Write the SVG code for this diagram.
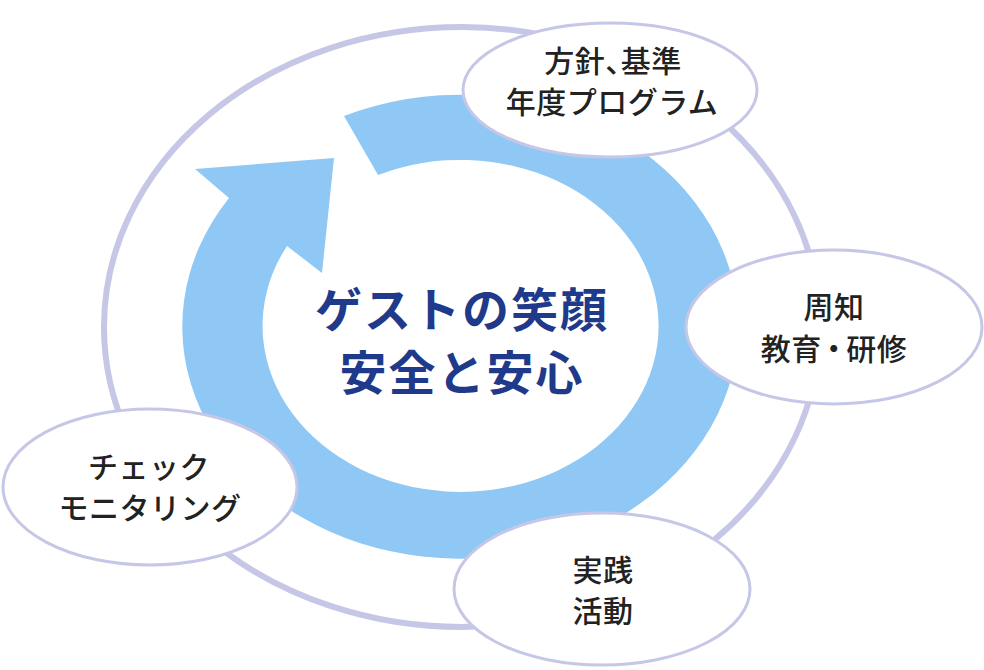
<svg xmlns="http://www.w3.org/2000/svg" width="984" height="670" viewBox="0 0 984 670">
<style>
.node ellipse{fill:#fff;stroke:#c6c7e6;stroke-width:3}
.lbl{font-family:"Noto Sans CJK JP","Noto Sans",sans-serif;font-size:30px;font-weight:500;fill:#222;text-anchor:middle;dominant-baseline:central;letter-spacing:0.5px}
.half{font-feature-settings:"halt" 1}
.center{font-family:"Noto Sans CJK JP","Noto Sans",sans-serif;font-size:47px;font-weight:700;fill:#1f3a8a;text-anchor:middle;dominant-baseline:central;letter-spacing:2px}
</style>
<rect width="984" height="670" fill="#fff"/>
<g id="connectors">
<ellipse cx="462" cy="327" rx="358" ry="300" fill="none" stroke="#c6c7e6" stroke-width="6"/>
<path id="cycle-arrow" fill="#8fc8f5" d="M344 116 A278 232 0 1 1 229 198 L195 169 L334 158 L322 273 L287 246 A198 166 0 1 0 378 175 Z"/>
</g>
<g id="center">
<text class="center" x="462" y="306">ゲストの笑顔</text>
<text class="center" x="462" y="369">安全と安心</text>
</g>
<g id="node-policy" class="node">
<ellipse cx="610" cy="90" rx="147" ry="67"/>
<text class="lbl" x="613" y="58.5">方針<tspan class="half">、</tspan>基準</text>
<text class="lbl" x="612" y="99.5">年度プログラム</text>
</g>
<g id="node-awareness" class="node">
<ellipse cx="834" cy="327" rx="148" ry="77"/>
<text class="lbl" x="834" y="305">周知</text>
<text class="lbl" x="834" y="347">教育<tspan dx="-3">・</tspan><tspan dx="-3">研修</tspan></text>
</g>
<g id="node-practice" class="node">
<ellipse cx="602" cy="589" rx="148" ry="76"/>
<text class="lbl" x="603" y="568">実践</text>
<text class="lbl" x="603" y="609">活動</text>
</g>
<g id="node-check" class="node">
<ellipse cx="150" cy="487" rx="147" ry="78"/>
<text class="lbl" x="149" y="465">チェック</text>
<text class="lbl" x="150" y="506">モニタリング</text>
</g>
</svg>
